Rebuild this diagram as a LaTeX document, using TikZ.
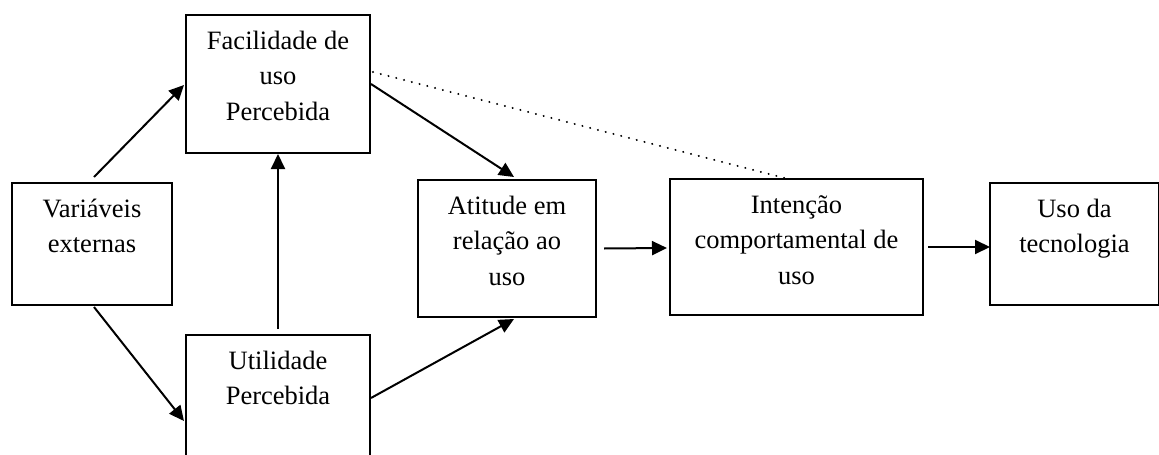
\documentclass[tikz,border=0pt]{standalone}
\usepackage{fontspec}
\setmainfont{Liberation Serif}
\usetikzlibrary{arrows.meta,calc}

\tikzset{
  box/.style={draw, line width=2pt, anchor=north west, inner sep=0pt},
  boxtext/.style={anchor=north, inner sep=0pt, align=center,
    font=\fontsize{26.5}{35.5}\selectfont},
  link/.style={line width=2pt, -{Triangle[length=15pt,width=14pt]}},
  hint/.style={line width=2.2pt, line cap=round, dash pattern=on 0.01pt off 8pt}
}

\begin{document}
\begin{tikzpicture}[x=1pt,y=-1pt]
  \useasboundingbox (0,0) rectangle (1159,455);
  \clip (0,0) rectangle (1159,455);

  % boxes
  \node[box, minimum width=160pt, minimum height=122pt] (var) at (11,182) {};
  \node[box, minimum width=184pt, minimum height=138pt] (fac) at (185,14) {};
  \node[box, minimum width=184pt, minimum height=140pt] (util) at (185,334) {};
  \node[box, minimum width=178pt, minimum height=137pt] (att) at (417,179) {};
  \node[box, minimum width=253pt, minimum height=136pt] (int) at (669,178) {};
  \node[box, minimum width=169pt, minimum height=122pt] (uso) at (989,182) {};

  % labels, first baseline 35pt below each box top
  \node[boxtext] (tvar)  at ($(var.north)+(0,10)$)  {\strut Variáveis\\externas};
  \node[boxtext] (tfac)  at ($(fac.north)+(0,10)$)  {\strut Facilidade de\\uso\\Percebida};
  \node[boxtext] (tutil) at ($(util.north)+(0,10)$) {\strut Utilidade\\Percebida};
  \node[boxtext] (tatt)  at ($(att.north)+(0,10)$)  {\strut Atitude em\\relação ao\\uso};
  \node[boxtext] (tint)  at ($(int.north)+(0,10)$)  {\strut Intenção\\comportamental de\\uso};
  \node[boxtext] (tuso)  at ($(uso.north)+(0,10)$)  {\strut Uso da\\tecnologia};

  % connectors
  \draw[link] ($(var.north)+(2,-5)$) -- ($(fac.west)+(-1,1)$);
  \draw[link] ($(var.south)+(2,1)$) -- ($(util.north west)+(-1,87)$);
  \draw[link] ($(util.north)+(0,-5)$) -- (fac.south);
  \draw[link] ($(fac.east)+(0,0)$) -- ($(att.north)+(7,-2)$);
  \draw[link] ($(util.north east)+(0,64)$) -- ($(att.south)+(7,1)$);
  \draw[link] ($(att.east)+(7,0)$) -- ($(int.west)+(-2,1)$);
  \draw[link] ($(int.east)+(4,0)$) -- ($(uso.west |- int.east)+(1,0)$);
  \draw[hint] ($(fac.north east)+(2,58)$) -- ($(int.north)+(-12,0)$);
\end{tikzpicture}
\end{document}
